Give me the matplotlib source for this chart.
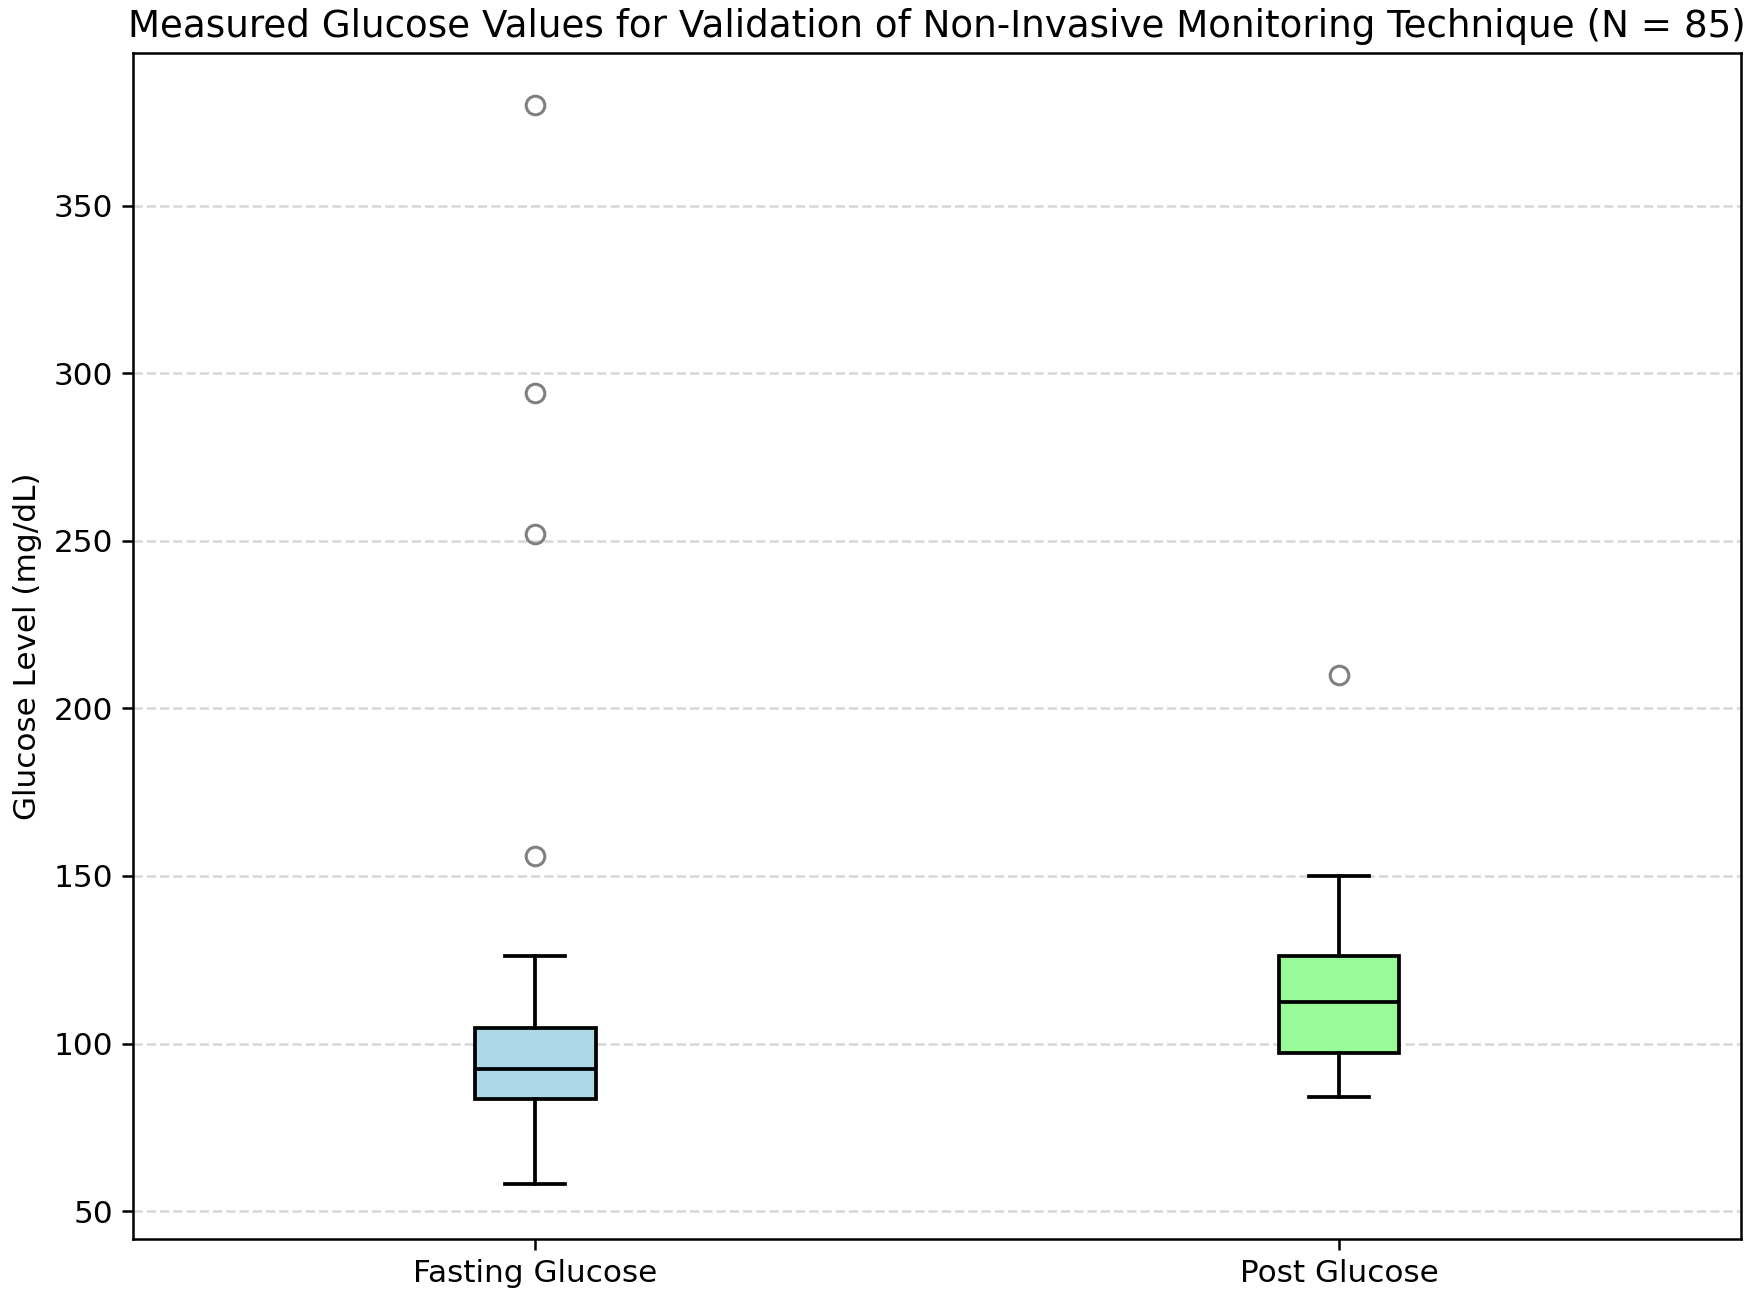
import matplotlib
matplotlib.use("Agg")
import matplotlib.pyplot as plt

categories = ["Fasting Glucose", "Post Glucose"]
whisker_low = [58, 84]
q1 = [83.3, 97.3]
median = [92.3, 112.3]
q3 = [104.7, 126]
whisker_high = [126, 150]
outliers = [[156, 252, 294, 380], [210]]
colors = ["lightblue", "palegreen"]

plt.rcParams["font.size"] = 11.2
plt.rcParams["axes.linewidth"] = 0.9
plt.rcParams["ytick.major.width"] = 0.9
plt.rcParams["xtick.major.width"] = 0.9
plt.rcParams["ytick.major.size"] = 3.9
plt.rcParams["xtick.major.size"] = 3.9

stats = []
for i, name in enumerate(categories):
    stats.append(dict(label=name, whislo=whisker_low[i], q1=q1[i], med=median[i],
                      q3=q3[i], whishi=whisker_high[i], fliers=outliers[i]))

fig, ax = plt.subplots(figsize=(8.775, 6.505), dpi=200)
lw = 1.35
bp = ax.bxp(stats, positions=[1, 2], widths=0.15, patch_artist=True,
            boxprops=dict(edgecolor="black", linewidth=lw),
            medianprops=dict(color="black", linewidth=lw),
            whiskerprops=dict(color="black", linewidth=lw),
            capprops=dict(color="black", linewidth=lw),
            flierprops=dict(marker="o", markerfacecolor="none",
                            markeredgecolor="gray", markersize=6.7, markeredgewidth=1.1))
for patch, c in zip(bp["boxes"], colors):
    patch.set_facecolor(c)

ax.set_xlim(0.5, 2.5)
ax.set_ylim(41.8, 395.5)
ax.set_title("Measured Glucose Values for Validation of Non-Invasive Monitoring Technique (N = 85)",
             fontsize=13.4)
ax.set_ylabel("Glucose Level (mg/dL)")
ax.yaxis.grid(True, linestyle="--", color="lightgray", alpha=0.9, linewidth=0.9)
ax.set_axisbelow(True)

fig.subplots_adjust(left=0.076, right=0.992, top=0.959, bottom=0.048)
fig.savefig("out.png", dpi=200)
